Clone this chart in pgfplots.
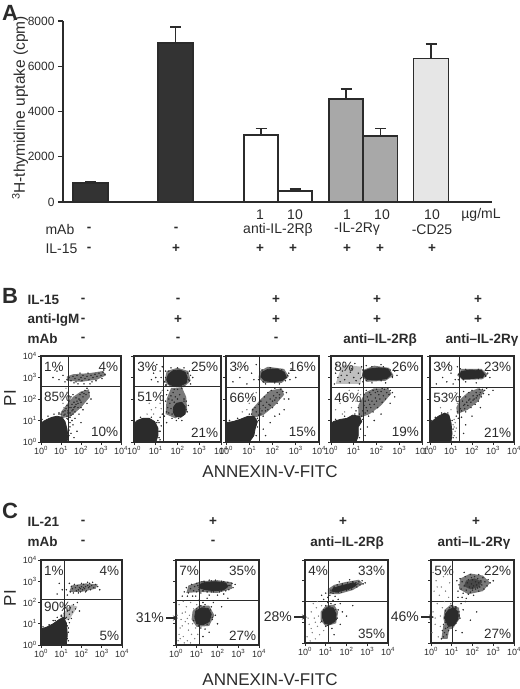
\documentclass[border=0pt]{standalone}
\usepackage{pgfplots}
\pgfplotsset{compat=1.18}
\usepackage{fontspec}
\setmainfont{Liberation Sans}
\definecolor{ink}{HTML}{2B2B2B}
\definecolor{darkbar}{HTML}{333333}
\definecolor{midbar}{HTML}{A8A8A8}
\definecolor{lightbar}{HTML}{E6E6E6}
\pgfplotsset{
  flow/.style={scale only axis, anchor=north west, xmin=0, xmax=4, ymin=0, ymax=4,
    xtick={0,1,2,3,4}, ytick={0,1,2,3,4},
    xticklabels={10\textsuperscript{0},10\textsuperscript{1},10\textsuperscript{2},10\textsuperscript{3},10\textsuperscript{4}},
    yticklabels={},
    tick align=outside, xtick pos=left, ytick pos=left, major tick length=3pt,
    axis line style={line width=1.1pt, ink},
    every tick/.style={line width=0.9pt, ink},
    tick label style={font=\fontsize{9}{10}\selectfont, text=ink, inner sep=1pt},
    axis on top},
  flowy/.style={yticklabels={10\textsuperscript{0},10\textsuperscript{1},10\textsuperscript{2},10\textsuperscript{3},10\textsuperscript{4}}},
  blob/.style={fill=ink, draw=ink, line width=0.8pt, line join=round},
  halo/.style={fill=black!52, draw=none},
  dots/.style={only marks, mark=*, mark size=0.5pt, ink},
  gdots/.style={only marks, mark=*, mark size=0.45pt, black!50},
  quad/.style={line width=1pt, ink},
  ebar/.style={error bars/.cd, y dir=plus, y explicit, error bar style={line width=1.8pt, ink},
    error mark options={rotate=90, line width=1.8pt, mark size=5.5pt, ink}},
}
\tikzset{pct/.style={font=\fontsize{13.5}{14}\selectfont, text=ink, inner sep=1pt},
  hdr/.style={font=\bfseries\fontsize{13.5}{15}\selectfont, text=ink},
  txt/.style={font=\fontsize{14}{16}\selectfont, text=ink},
  big/.style={font=\bfseries\fontsize{22}{24}\selectfont, text=ink}}
\begin{document}
\begin{tikzpicture}
\useasboundingbox (0pt,0pt) rectangle (520pt,-689pt);
% ================= Panel A =================
\node[big] at (10pt,-13pt) {A};
\begin{axis}[at={(63pt,-202pt)}, anchor=south west, scale only axis, width=429pt, height=181pt,
  xmin=63, xmax=492, ymin=0, ymax=8000,
  axis x line=bottom, axis y line=left, axis line style={-, line width=1.5pt, ink},
  xtick=\empty, ytick={0,2000,4000,6000,8000},
  tick align=outside, major tick length=5pt, every tick/.style={line width=1.2pt, ink},
  yticklabel style={font=\fontsize{12}{14}\selectfont, text=ink},
  /pgf/number format/1000 sep={}, /pgf/number format/assume math mode=true,
  clip=false]
\addplot[ybar, bar shift=0pt, bar width=34.5, fill=darkbar, draw=ink, line width=1.6pt, ebar]
  coordinates {(90.5,830) +- (0,70) (175.5,7030) +- (0,700)};
\addplot[ybar, bar shift=0pt, bar width=34, fill=white, draw=ink, line width=1.6pt, ebar]
  coordinates {(261,2960) +- (0,290) (295,485) +- (0,75)};
\addplot[ybar, bar shift=0pt, bar width=34, fill=midbar, draw=ink, line width=1.6pt, ebar]
  coordinates {(346,4540) +- (0,440) (380.5,2910) +- (0,340)};
\addplot[ybar, bar shift=0pt, bar width=35, fill=lightbar, draw=ink, line width=1.6pt, ebar]
  coordinates {(431,6340) +- (0,630)};
\end{axis}
\node[rotate=90, font=\fontsize{15.5}{17}\selectfont, text=ink] at (20pt,-108pt) {\textsuperscript{3}H-thymidine uptake (cpm)};
\node[txt] at (260pt,-215pt) {1};
\node[txt] at (295pt,-215pt) {10};
\node[txt] at (347pt,-215pt) {1};
\node[txt] at (382pt,-215pt) {10};
\node[txt] at (432pt,-215pt) {10};
\node[txt] at (481pt,-215pt) {µg/mL};
\node[txt,anchor=west] at (42pt,-229.5pt) {mAb};
\node[hdr] at (89pt,-229.5pt) {-};
\node[hdr] at (176pt,-229.5pt) {-};
\node[txt] at (278pt,-229.5pt) {anti-IL-2Rβ};
\node[txt] at (357pt,-229.5pt) {-IL-2Rγ};
\node[txt] at (432pt,-229.5pt) {-CD25};
\node[txt,anchor=west] at (42pt,-249pt) {IL-15};
\node[hdr] at (89pt,-249pt) {-};
\foreach \xx in {176,260,293,347,380,432} {\node[hdr] at (\xx pt,-249pt) {+};}
% ================= Panel B headers =================
\node[big] at (10pt,-296pt) {B};
\node[hdr,anchor=west] at (24pt,-300pt) {IL-15};
\node[hdr,anchor=west] at (24pt,-320pt) {anti-IgM};
\node[hdr,anchor=west] at (24pt,-339pt) {mAb};
\node[hdr] at (83pt,-300pt) {-};\node[hdr] at (83pt,-320pt) {-};\node[hdr] at (83pt,-339pt) {-};
\node[hdr] at (178pt,-300pt) {-};\node[hdr] at (178pt,-320pt) {+};\node[hdr] at (178pt,-339pt) {-};
\node[hdr] at (276pt,-300pt) {+};\node[hdr] at (276pt,-320pt) {+};\node[hdr] at (276pt,-339pt) {-};
\node[hdr] at (377pt,-300pt) {+};\node[hdr] at (377pt,-320pt) {+};\node[hdr] at (380pt,-340pt) {anti–IL-2Rβ};
\node[hdr] at (478pt,-300pt) {+};\node[hdr] at (478pt,-320pt) {+};\node[hdr] at (482pt,-340pt) {anti–IL-2Rγ};
\node[rotate=90, font=\fontsize{17}{18}\selectfont, text=ink] at (10pt,-398pt) {PI};
\node[font=\fontsize{17}{18}\selectfont, text=ink] at (270pt,-472pt) {ANNEXIN-V-FITC};
% ---- B1 ----
\begin{axis}[flow, flowy, at={(41pt,-356pt)}, width=80pt, height=86pt]
\addplot[halo] coordinates {(1.0,1.1)(1.5,1.2)(2.0,1.6)(2.45,2.1)(2.4,2.45)(2.0,2.35)(1.6,2.1)(1.25,1.7)(1.0,1.4)} --cycle;
\addplot[halo] coordinates {(1.3,2.85)(2.0,2.8)(2.8,2.9)(3.25,3.1)(3.1,3.3)(2.4,3.2)(1.6,3.15)(1.3,3.05)} --cycle;
\addplot[blob] coordinates {(0,0)(1.3,0)(1.35,0.25)(1.3,0.6)(1.2,0.95)(1.05,1.15)(0.8,1.2)(0.55,1.15)(0.3,1.05)(0.1,0.95)(0,0.85)} --cycle;
\addplot[dots] coordinates {(1.2,1.3)(1.3,1.2)(1.35,1.45)(1.45,1.35)(1.5,1.6)(1.6,1.5)(1.55,1.75)(1.65,1.85)(1.7,1.65)(1.8,1.9)(1.75,2.05)(1.9,2.0)(1.95,2.2)(2.0,1.85)(2.05,2.3)(2.1,2.1)(2.2,2.4)(2.25,2.2)(2.3,2.5)(1.4,1.9)(1.5,2.1)(1.6,2.2)(1.3,1.7)(1.25,1.55)(1.45,1.15)(1.6,1.3)(1.7,1.4)(1.85,1.6)(2.0,1.6)(2.4,2.3)(1.1,1.4)(1.0,1.3)(0.9,1.35)
(1.4,1.6)(1.55,1.45)(1.65,1.6)(1.75,1.75)(1.85,1.8)(1.95,1.95)(2.15,2.25)(1.35,1.35)(1.5,1.25)(1.2,1.45)
(1.5,0.4)(1.6,0.8)(1.7,1.1)(1.45,0.7)(1.8,0.5)(1.55,1.0)(1.9,1.3)(2.1,1.5)(2.3,1.8)(1.65,0.2)(2.0,0.9)(2.5,2.0)
(1.4,0.3)(1.45,0.9)(1.35,1.05)(1.15,1.25)(0.65,1.3)(0.35,1.2)(0.05,1.05)(1.4,0.55)(1.3,1.1)(0.9,1.3)
(1.3,2.9)(1.4,3.0)(1.5,2.85)(1.6,3.05)(1.7,2.95)(1.75,2.8)(1.8,3.1)(1.9,2.9)(2.0,3.0)(2.05,2.85)(2.1,3.1)(2.2,2.95)(2.3,3.05)(2.4,2.9)(2.5,3.1)(2.6,3.0)(2.7,3.15)(2.8,3.05)(2.9,3.2)(3.0,3.1)(3.1,3.25)(3.2,3.15)(2.55,2.8)(2.35,3.2)(1.95,3.2)(1.65,2.75)(2.75,2.85)(3.05,2.95)(2.45,2.7)(2.15,2.7)(1.85,2.7)
(0.6,3.0)(0.9,2.9)(1.1,3.1)(1.2,2.8)(0.8,3.3)};
\addplot[gdots] coordinates {(1.1,1.8)(1.2,2.1)(1.3,2.3)(1.0,2.0)(1.25,2.5)(1.15,1.6)(1.35,2.0)};
\addplot[quad] coordinates {(1.4,0)(1.4,4)};
\addplot[quad] coordinates {(0,2.6)(4,2.6)};
\node[pct,anchor=west] at (axis cs:0.1,3.5) {1\%};
\node[pct,anchor=east] at (axis cs:3.92,3.5) {4\%};
\node[pct,anchor=west] at (axis cs:0.1,2.1) {85\%};
\node[pct,anchor=east] at (axis cs:3.92,0.45) {10\%};
\end{axis}
% ---- B2 ----
\begin{axis}[flow, at={(134pt,-356pt)}, width=87pt, height=86pt]
\addplot[halo] coordinates {(1.45,1.3)(1.9,1.1)(2.45,1.4)(2.4,2.1)(2.2,2.55)(1.7,2.5)(1.5,2.0)} --cycle;
\addplot[halo] coordinates {(1.4,2.8)(1.7,2.55)(2.3,2.55)(2.6,2.85)(2.5,3.3)(2.0,3.45)(1.5,3.3)} --cycle;
\addplot[blob] coordinates {(0,0)(1.0,0)(1.1,0.3)(1.1,0.65)(0.95,0.95)(0.7,1.1)(0.4,1.1)(0.15,1.0)(0,0.85)} --cycle;
\addplot[blob] coordinates {(1.5,2.9)(1.6,2.7)(1.85,2.6)(2.15,2.62)(2.4,2.75)(2.45,3.0)(2.35,3.25)(2.1,3.35)(1.8,3.32)(1.58,3.15)} --cycle;
\addplot[blob] coordinates {(1.8,1.4)(1.9,1.2)(2.15,1.15)(2.35,1.3)(2.35,1.65)(2.2,1.85)(1.95,1.8)(1.82,1.62)} --cycle;
\addplot[dots] coordinates {(1.1,1.0)(1.2,1.15)(1.3,1.3)(1.4,1.2)(1.5,1.4)(1.6,1.35)(1.7,1.55)(1.55,1.6)(1.65,1.8)(1.75,1.95)(1.6,2.0)(1.7,2.15)(1.8,2.3)(1.9,2.1)(2.0,2.0)(2.1,2.2)(1.85,2.45)(2.0,2.45)(2.2,2.5)(1.5,2.2)(1.45,1.9)(1.55,2.4)(2.3,2.0)(2.4,1.9)(2.5,1.7)(2.45,1.4)(1.95,1.0)(1.75,1.1)(2.2,1.0)(1.5,0.9)
(0.8,2.9)(0.9,3.2)(1.0,3.0)(1.1,2.8)(1.2,3.3)(1.25,3.0)(1.3,3.5)(0.7,3.4)(1.05,3.6)
(1.4,2.8)(1.45,3.3)(2.5,2.9)(2.6,3.1)(2.55,3.3)(2.3,3.45)(1.7,3.45)(1.45,2.65)(2.6,2.7)(2.7,3.0)
(1.5,2.65)(1.45,3.0)(1.6,3.3)(2.0,3.45)(2.45,3.2)(2.55,2.85)(2.3,2.6)(1.7,2.6)
(1.75,1.3)(2.05,1.1)(2.4,1.5)(2.3,1.9)(1.85,1.85)(1.15,0.5)(1.05,0.9)(0.8,1.15)(0.3,1.15)(1.2,0.1)
(1.15,0.9)(1.2,0.5)(1.25,0.75)(1.15,0.2)};
\addplot[gdots] coordinates {(0.9,1.3)(1.0,1.6)(1.2,1.8)(0.8,1.5)(1.1,2.1)(1.25,1.55)(0.6,1.3)(1.3,2.4)(0.7,1.8)(1.0,2.3)};
\addplot[quad] coordinates {(1.35,0)(1.35,4)};
\addplot[quad] coordinates {(0,2.6)(4,2.6)};
\node[pct,anchor=west] at (axis cs:0.1,3.5) {3\%};
\node[pct,anchor=east] at (axis cs:3.92,3.5) {25\%};
\node[pct,anchor=west] at (axis cs:0.1,2.1) {51\%};
\node[pct,anchor=east] at (axis cs:3.92,0.45) {21\%};
\end{axis}
% ---- B3 ----
\begin{axis}[flow, at={(226pt,-356pt)}, width=93pt, height=86pt]
\addplot[halo] coordinates {(1.1,1.1)(1.6,1.25)(2.1,1.7)(2.5,2.2)(2.4,2.5)(1.9,2.4)(1.5,2.0)(1.1,1.5)} --cycle;
\addplot[halo] coordinates {(1.4,3.0)(1.6,2.75)(2.4,2.75)(2.7,3.05)(2.5,3.4)(1.8,3.5)(1.45,3.3)} --cycle;
\addplot[blob] coordinates {(0,0)(1.0,0)(1.2,0.3)(1.25,0.6)(1.35,0.95)(1.2,1.2)(0.95,1.2)(0.6,1.05)(0.3,0.95)(0,0.9)} --cycle;
\addplot[blob] coordinates {(1.5,3.05)(1.65,2.85)(2.0,2.8)(2.4,2.85)(2.6,3.0)(2.5,3.25)(2.2,3.4)(1.8,3.38)(1.55,3.25)} --cycle;
\addplot[dots] coordinates {(1.1,1.3)(1.2,1.1)(1.3,1.4)(1.4,1.25)(1.45,1.55)(1.55,1.45)(1.6,1.7)(1.7,1.6)(1.75,1.85)(1.85,1.75)(1.9,2.0)(2.0,1.9)(2.05,2.15)(2.15,2.05)(2.2,2.3)(2.3,2.2)(2.35,2.45)(2.45,2.35)(1.5,1.9)(1.65,2.1)(1.8,2.3)(1.95,2.4)(2.1,2.5)(1.4,1.75)(2.5,2.0)(2.6,2.3)(1.35,1.1)(1.6,1.2)(1.8,1.5)(2.0,1.6)(2.2,1.8)(1.25,1.6)(1.15,1.5)(1.5,1.3)(1.7,1.45)(1.9,1.7)(2.1,1.95)(2.3,2.05)
(1.6,0.6)(1.9,0.9)(2.3,1.3)(2.1,1.2)(1.7,0.3)(2.7,2.0)(2.5,1.5)
(0.3,2.8)(0.6,3.0)(0.9,2.7)(1.1,3.2)(1.2,2.9)(0.5,3.4)(1.3,3.6)(0.8,3.5)
(1.4,2.9)(1.45,3.4)(2.7,3.2)(2.75,2.9)(2.3,2.7)(1.7,2.7)(2.8,3.4)(3.0,3.0)
(1.45,3.0)(1.6,2.8)(2.1,2.75)(2.55,2.85)(2.65,3.1)(2.4,3.35)(1.9,3.45)(1.55,3.35)
(1.3,0.3)(1.35,0.7)(1.4,1.0)(1.0,1.3)(0.5,1.1)(0.15,1.0)};
\addplot[gdots] coordinates {(0.9,1.5)(1.0,1.8)(1.2,2.0)(0.7,1.4)(1.3,2.3)(1.1,2.2)};
\addplot[quad] coordinates {(1.43,0)(1.43,4)};
\addplot[quad] coordinates {(0,2.55)(4,2.55)};
\node[pct,anchor=west] at (axis cs:0.1,3.5) {3\%};
\node[pct,anchor=east] at (axis cs:3.92,3.5) {16\%};
\node[pct,anchor=west] at (axis cs:0.1,2.05) {66\%};
\node[pct,anchor=east] at (axis cs:3.92,0.45) {15\%};
\end{axis}
% ---- B4 ----
\begin{axis}[flow, at={(331pt,-356pt)}, width=91pt, height=86pt]
\addplot[halo] coordinates {(1.2,1.1)(1.7,1.3)(2.2,1.7)(2.65,2.25)(2.5,2.5)(1.9,2.5)(1.5,2.3)(1.2,1.7)} --cycle;
\addplot[fill=black!25, draw=none] coordinates {(0.2,2.7)(1.3,2.7)(1.35,3.5)(0.5,3.6)} --cycle;
\addplot[halo] coordinates {(1.35,3.05)(1.6,2.8)(2.4,2.85)(2.75,3.1)(2.55,3.45)(1.9,3.55)(1.4,3.35)} --cycle;
\addplot[blob] coordinates {(0,0)(1.1,0)(1.2,0.3)(1.2,0.7)(1.35,0.95)(1.25,1.2)(0.95,1.25)(0.7,1.1)(0.4,1.05)(0.1,0.95)(0,0.8)} --cycle;
\addplot[blob] coordinates {(1.4,3.1)(1.6,2.9)(2.0,2.88)(2.45,2.95)(2.65,3.15)(2.5,3.4)(2.1,3.45)(1.7,3.4)(1.45,3.3)} --cycle;
\addplot[dots] coordinates {(1.25,1.3)(1.35,1.2)(1.4,1.45)(1.5,1.35)(1.55,1.6)(1.6,1.45)(1.7,1.75)(1.75,1.6)(1.8,1.9)(1.9,1.75)(1.95,2.05)(2.0,1.9)(2.1,2.2)(2.15,2.0)(2.2,2.35)(2.3,2.15)(2.35,2.45)(2.45,2.3)(2.5,2.5)(2.6,2.4)(1.5,1.9)(1.6,2.1)(1.7,2.3)(1.85,2.4)(2.0,2.45)(1.45,2.2)(1.55,2.4)(1.3,1.9)(1.2,1.6)(1.1,1.45)(1.65,1.2)(1.85,1.4)(2.05,1.6)(2.25,1.85)(2.4,2.0)(2.55,2.2)(2.7,2.3)(1.75,2.2)(1.95,2.3)(2.25,2.5)(1.45,1.7)(1.65,1.95)(2.05,2.35)
(0.15,2.7)(0.3,3.0)(0.4,2.8)(0.5,3.3)(0.6,2.9)(0.7,3.1)(0.8,2.75)(0.9,3.4)(1.0,3.0)(1.1,2.85)(1.2,3.2)(1.3,2.95)(1.35,3.5)(0.25,3.6)(0.55,3.7)(1.05,3.65)(0.85,3.25)(1.25,2.7)(0.45,3.1)(0.2,3.2)
(1.4,2.8)(2.7,3.0)(2.8,3.3)(2.9,3.1)(2.4,2.75)(1.8,2.75)(2.2,3.6)(1.55,3.55)
(1.35,3.0)(1.55,2.85)(2.2,2.85)(2.7,3.05)(2.6,3.35)(2.3,3.5)(1.8,3.5)(1.4,3.35)
(1.25,0.2)(1.3,0.6)(1.4,1.05)(1.05,1.3)(0.6,1.2)(0.2,1.05)
(1.6,0.7)(1.9,1.0)(2.2,1.3)(2.6,1.8)(1.5,0.3)(2.8,2.1)};
\addplot[gdots] coordinates {(0.2,1.5)(0.4,1.8)(0.6,1.4)(0.7,2.0)(0.9,1.6)(1.0,2.2)(1.1,1.9)(1.2,2.4)(0.3,2.2)(0.8,2.4)(1.3,2.2)(0.5,1.3)};
\addplot[quad] coordinates {(1.41,0)(1.41,4)};
\addplot[quad] coordinates {(0,2.55)(4,2.55)};
\node[pct,anchor=west] at (axis cs:0.1,3.5) {8\%};
\node[pct,anchor=east] at (axis cs:3.92,3.5) {26\%};
\node[pct,anchor=west] at (axis cs:0.1,2.05) {46\%};
\node[pct,anchor=east] at (axis cs:3.92,0.45) {19\%};
\end{axis}
% ---- B5 ----
\begin{axis}[flow, at={(430pt,-356pt)}, width=84pt, height=86pt]
\addplot[halo] coordinates {(1.3,1.3)(1.8,1.5)(2.3,1.9)(2.6,2.4)(2.3,2.5)(1.8,2.3)(1.45,2.0)(1.25,1.6)} --cycle;
\addplot[halo] coordinates {(1.3,3.1)(1.55,2.88)(2.5,2.92)(2.75,3.15)(2.45,3.4)(1.5,3.4)} --cycle;
\addplot[blob] coordinates {(0,0)(1.0,0)(1.05,0.4)(1.0,0.9)(0.9,1.25)(0.7,1.35)(0.4,1.2)(0.15,1.0)(0,0.9)} --cycle;
\addplot[blob] coordinates {(1.4,3.1)(1.55,2.95)(2.0,2.95)(2.5,3.0)(2.6,3.15)(2.45,3.32)(1.9,3.35)(1.5,3.28)} --cycle;
\addplot[dots] coordinates {(1.3,1.4)(1.4,1.3)(1.45,1.55)(1.5,1.45)(1.6,1.7)(1.65,1.55)(1.75,1.85)(1.8,1.7)(1.9,2.0)(1.95,1.85)(2.05,2.15)(2.1,2.0)(2.2,2.3)(2.25,2.15)(2.35,2.45)(2.4,2.3)(2.5,2.45)(1.55,1.9)(1.7,2.1)(1.85,2.3)(2.0,2.4)(1.45,2.1)(1.6,2.35)(2.3,1.9)(2.45,2.1)(2.55,2.25)(1.95,1.6)(2.15,1.75)(1.7,1.4)(2.6,2.4)(1.5,1.15)(1.35,1.1)(1.25,1.2)(2.7,2.5)(1.85,1.95)(2.05,1.95)(2.2,2.05)(1.65,1.75)(2.35,2.2)
(0.3,2.7)(0.6,3.0)(0.8,2.8)(1.0,3.2)(1.2,2.9)(0.5,3.4)(1.3,3.5)(0.9,3.6)(1.1,2.7)
(1.35,2.9)(2.65,3.05)(2.75,3.2)(2.2,2.75)(1.7,2.8)(2.85,3.0)(1.45,3.4)
(1.35,3.15)(1.6,2.9)(2.3,2.95)(2.65,3.1)(2.3,3.38)(1.7,3.38)
(1.1,0.2)(1.1,0.6)(1.05,1.0)(0.85,1.35)(0.55,1.35)(0.25,1.15)(0.05,1.0)
(1.7,0.8)(2.0,1.2)(2.4,1.6)(1.6,0.4)(2.8,2.2)(3.0,2.4)};
\addplot[gdots] coordinates {(1.15,0.3)(1.2,0.5)(1.15,0.7)(1.2,0.9)(1.15,1.05)(1.25,0.2)(1.1,0.8)(1.25,0.65)(0.5,1.6)(0.7,1.9)(1.0,1.5)(1.1,2.0)(1.2,2.3)(0.9,2.2)(1.3,1.8)(0.4,2.0)};
\addplot[quad] coordinates {(1.4,0)(1.4,4)};
\addplot[quad] coordinates {(0,2.55)(4,2.55)};
\node[pct,anchor=west] at (axis cs:0.1,3.5) {3\%};
\node[pct,anchor=east] at (axis cs:3.92,3.5) {23\%};
\node[pct,anchor=west] at (axis cs:0.1,2.05) {53\%};
\node[pct,anchor=east] at (axis cs:3.92,0.45) {21\%};
\end{axis}
% ================= Panel C headers =================
\node[big] at (10pt,-511pt) {C};
\node[hdr,anchor=west] at (24pt,-522pt) {IL-21};
\node[hdr,anchor=west] at (24pt,-542pt) {mAb};
\node[hdr] at (83pt,-522pt) {-};\node[hdr] at (83pt,-542pt) {-};
\node[hdr] at (213pt,-522pt) {+};\node[hdr] at (213pt,-542pt) {-};
\node[hdr] at (343pt,-522pt) {+};\node[hdr] at (347pt,-543pt) {anti–IL-2Rβ};
\node[hdr] at (476pt,-522pt) {+};\node[hdr] at (474pt,-543pt) {anti–IL-2Rγ};
\node[rotate=90, font=\fontsize{17}{18}\selectfont, text=ink] at (10pt,-598pt) {PI};
\node[font=\fontsize{17}{18}\selectfont, text=ink] at (270pt,-680pt) {ANNEXIN-V-FITC};
\node[pct,anchor=east,font=\fontsize{14}{15}\selectfont] at (165pt,-618pt) {31\%};
\draw[-stealth, line width=1.2pt, ink] (166pt,-618pt) -- (178pt,-618pt);
\node[pct,anchor=east,font=\fontsize{14}{15}\selectfont] at (293pt,-617pt) {28\%};
\draw[-stealth, line width=1.2pt, ink] (294pt,-617pt) -- (307pt,-617pt);
\node[pct,anchor=east,font=\fontsize{14}{15}\selectfont] at (420pt,-617pt) {46\%};
\draw[-stealth, line width=1.2pt, ink] (421pt,-617pt) -- (434pt,-617pt);
% ---- C1 ----
\begin{axis}[flow, flowy, at={(41pt,-560pt)}, width=81pt, height=85pt]
\addplot[halo] coordinates {(1.4,2.5)(2.0,2.5)(2.7,2.65)(2.8,2.85)(2.2,2.9)(1.5,2.8)} --cycle;
\addplot[fill=black!28, draw=none] coordinates {(1.0,1.2)(1.4,1.2)(1.8,1.8)(1.5,1.9)(1.1,1.5)} --cycle;
\addplot[blob] coordinates {(0,0)(1.25,0)(1.3,0.5)(1.25,1.05)(1.1,1.3)(0.9,1.2)(0.6,1.0)(0.3,0.85)(0,0.75)} --cycle;
\addplot[dots] coordinates {(1.45,2.5)(1.55,2.65)(1.6,2.45)(1.7,2.7)(1.75,2.55)(1.8,2.8)(1.85,2.6)(1.9,2.7)(1.95,2.5)(2.0,2.75)(2.05,2.6)(2.1,2.85)(2.15,2.65)(2.2,2.75)(2.25,2.55)(2.3,2.8)(2.35,2.7)(2.4,2.9)(2.45,2.6)(2.5,2.8)(2.55,2.95)(2.6,2.7)(2.7,2.85)(2.8,2.75)(1.65,2.85)(1.5,2.75)(2.0,2.9)(2.3,2.95)(1.85,2.45)(2.2,2.5)(1.3,2.35)(1.25,2.6)(2.9,2.6)(1.4,2.9)(1.95,2.65)(2.1,2.7)(2.4,2.75)
(1.0,1.4)(1.15,1.5)(1.25,1.3)(1.3,1.6)(1.4,1.45)(1.45,1.75)(1.55,1.55)(1.6,1.9)(1.7,1.7)(1.8,2.0)(1.35,1.2)(1.3,0.9)(1.4,1.05)(1.2,1.75)(1.5,1.25)(1.9,1.6)
(1.35,0.2)(1.35,0.8)(1.2,1.25)(1.0,1.35)(0.7,1.15)(0.4,0.95)(0.1,0.85)
(0.8,2.4)(0.9,2.9)(1.05,2.6)(0.8,1.3)(0.6,1.15)(1.3,0.3)(1.35,0.6)};
\addplot[quad] coordinates {(1.15,0)(1.15,4)};
\addplot[quad] coordinates {(0,2.13)(4,2.13)};
\node[pct,anchor=west] at (axis cs:0.1,3.5) {1\%};
\node[pct,anchor=east] at (axis cs:3.92,3.5) {4\%};
\node[pct,anchor=west] at (axis cs:0.1,1.8) {90\%};
\node[pct,anchor=east] at (axis cs:3.92,0.45) {5\%};
\end{axis}
% ---- C2 ----
\begin{axis}[flow, at={(176pt,-560pt)}, width=83pt, height=85pt]
\addplot[halo] coordinates {(0.5,2.45)(1.2,2.5)(2.0,2.45)(2.7,2.65)(2.7,2.95)(2.0,3.05)(1.2,3.0)(0.6,2.8)} --cycle;
\addplot[halo] coordinates {(0.75,1.2)(1.0,0.85)(1.6,0.9)(1.85,1.4)(1.6,1.85)(1.1,1.85)(0.8,1.6)} --cycle;
\addplot[blob] coordinates {(1.1,2.7)(1.4,2.6)(1.9,2.55)(2.3,2.6)(2.5,2.75)(2.4,2.92)(1.9,2.98)(1.4,2.95)(1.15,2.85)} --cycle;
\addplot[blob] coordinates {(0.9,1.3)(1.0,1.0)(1.3,0.95)(1.6,1.1)(1.7,1.45)(1.55,1.72)(1.25,1.75)(0.95,1.6)} --cycle;
\addplot[dots] coordinates {(0.4,2.5)(0.5,2.7)(0.6,2.45)(0.7,2.65)(0.75,2.85)(0.85,2.55)(0.9,2.75)(1.0,2.5)(1.0,2.9)(1.1,2.6)(1.2,2.45)(1.3,2.55)(1.35,3.0)(1.5,2.5)(1.6,3.05)(1.8,2.5)(1.9,3.05)(2.1,2.5)(2.2,3.0)(2.4,2.55)(2.5,2.95)(2.6,2.8)(2.7,2.9)(2.75,2.7)(2.85,2.85)(0.3,2.3)(0.55,2.3)(0.8,2.3)(2.0,2.35)(2.3,2.4)(1.6,2.35)(0.95,2.3)(2.55,2.6)
(1.05,2.8)(1.3,2.55)(1.7,2.5)(2.2,2.55)(2.55,2.8)(2.3,2.98)(1.7,3.02)(1.25,2.97)
(0.85,1.15)(1.1,0.9)(1.5,0.98)(1.75,1.3)(1.65,1.65)(1.35,1.8)(1.0,1.7)
(1.2,1.85)(1.3,2.0)(1.4,1.9)(1.1,2.1)(1.5,2.2)(1.7,1.8)(1.8,2.0)(1.6,1.5)(1.75,1.2)(1.2,0.8)(1.4,0.75)(1.9,1.4)(2.2,1.8)(2.5,2.2)
(1.3,0.4)(1.6,0.6)(2.0,1.0)};
\addplot[gdots] coordinates {(0.1,0.2)(0.2,0.8)(0.3,1.5)(0.15,1.9)(0.35,0.4)(0.45,1.1)(0.5,1.8)(0.55,0.2)(0.6,0.7)(0.65,1.4)(0.7,2.0)(0.75,0.5)(0.8,1.0)(0.85,1.7)(0.9,0.3)(0.95,0.8)(1.0,1.9)(0.25,1.2)(0.4,0.1)(0.05,1.4)(0.15,0.5)(0.7,0.1)(0.35,2.05)(0.6,1.0)(1.05,0.5)(0.45,1.55)(0.2,0.3)(0.3,0.9)(0.55,1.25)(0.85,1.3)};
\addplot[quad] coordinates {(1.15,0)(1.15,4)};
\addplot[quad] coordinates {(0,2.1)(4,2.1)};
\node[pct,anchor=west] at (axis cs:0.1,3.5) {7\%};
\node[pct,anchor=east] at (axis cs:3.92,3.5) {35\%};
\node[pct,anchor=east] at (axis cs:3.92,0.45) {27\%};
\end{axis}
% ---- C3 ----
\begin{axis}[flow, at={(305pt,-560pt)}, width=83pt, height=83pt]
\addplot[halo] coordinates {(1.1,2.35)(1.6,2.35)(2.3,2.55)(2.8,2.85)(2.6,3.05)(2.0,2.95)(1.4,2.8)(1.1,2.6)} --cycle;
\addplot[halo] coordinates {(0.75,1.1)(1.0,0.8)(1.5,0.95)(1.6,1.5)(1.4,1.85)(1.0,1.8)(0.75,1.5)} --cycle;
\addplot[blob] coordinates {(1.3,2.5)(1.5,2.45)(1.9,2.55)(2.3,2.68)(2.5,2.82)(2.35,2.9)(2.0,2.82)(1.6,2.72)(1.35,2.62)} --cycle;
\addplot[blob] coordinates {(0.85,1.2)(0.95,0.95)(1.2,0.9)(1.45,1.05)(1.5,1.4)(1.35,1.7)(1.05,1.7)(0.85,1.5)} --cycle;
\addplot[dots] coordinates {(1.2,2.3)(1.25,2.55)(1.35,2.4)(1.4,2.7)(1.5,2.5)(1.55,2.8)(1.6,2.55)(1.7,2.7)(1.75,2.45)(1.8,2.85)(1.85,2.6)(1.95,2.75)(2.0,2.55)(2.05,2.9)(2.1,2.7)(2.2,2.8)(2.25,2.6)(2.3,2.95)(2.4,2.75)(2.45,2.9)(2.5,2.7)(2.6,2.95)(2.65,2.8)(2.75,3.0)(2.8,2.85)(1.1,2.2)(1.0,2.4)(0.9,2.1)(0.8,2.3)(1.45,2.25)(1.65,2.95)(2.15,3.05)(2.9,2.9)
(1.25,2.45)(1.6,2.45)(2.1,2.6)(2.55,2.85)(2.3,2.95)(1.8,2.8)(1.4,2.68)
(0.8,1.05)(1.1,0.85)(1.5,1.15)(1.45,1.6)(1.2,1.75)(0.9,1.6)
(1.0,1.8)(1.1,1.95)(1.25,1.9)(1.35,2.05)(1.45,1.85)(1.6,1.6)(1.6,2.1)(1.7,1.9)(1.0,0.8)(1.3,0.7)(1.55,1.2)(1.8,1.5)
(1.4,0.4)(1.7,0.9)(2.0,1.3)(2.3,1.8)};
\addplot[gdots] coordinates {(0.1,0.3)(0.2,0.9)(0.3,1.5)(0.35,0.5)(0.45,1.2)(0.5,0.2)(0.55,1.7)(0.6,0.8)(0.65,1.3)(0.7,0.4)(0.75,1.0)(0.8,1.8)(0.15,1.2)(0.4,1.9)(0.25,0.1)(0.9,0.6)(0.6,2.0)(0.3,0.7)(0.5,1.0)};
\addplot[quad] coordinates {(1.15,0)(1.15,4)};
\addplot[quad] coordinates {(0,2.0)(4,2.0)};
\node[pct,anchor=west] at (axis cs:0.1,3.5) {4\%};
\node[pct,anchor=east] at (axis cs:3.92,3.5) {33\%};
\node[pct,anchor=east] at (axis cs:3.92,0.45) {35\%};
\end{axis}
% ---- C4 ----
\begin{axis}[flow, at={(431pt,-560pt)}, width=83pt, height=83pt]
\addplot[halo] coordinates {(1.35,2.6)(1.8,2.35)(2.5,2.5)(2.85,2.9)(2.5,3.25)(1.9,3.35)(1.4,3.1)} --cycle;
\addplot[halo] coordinates {(0.6,1.2)(0.7,0.6)(1.05,0.7)(1.4,1.2)(1.35,1.7)(0.95,1.85)(0.65,1.6)} --cycle;
\addplot[halo] coordinates {(0.5,0.2)(0.8,0.2)(0.9,0.8)(0.6,0.9)} --cycle;
\addplot[fill=black!72, draw=black!72] coordinates {(1.6,2.75)(1.9,2.6)(2.3,2.7)(2.45,2.95)(2.1,3.1)(1.7,3.0)} --cycle;
\addplot[blob] coordinates {(0.7,1.1)(0.85,0.8)(1.1,0.85)(1.3,1.15)(1.3,1.5)(1.1,1.7)(0.85,1.6)(0.7,1.4)} --cycle;
\addplot[dots] coordinates {(1.3,2.5)(1.35,2.8)(1.4,3.1)(1.45,2.6)(1.5,2.95)(1.55,2.4)(1.6,2.75)(1.65,3.2)(1.7,2.55)(1.75,2.9)(1.8,3.05)(1.8,2.35)(1.85,2.7)(1.9,3.3)(1.95,2.85)(2.0,2.55)(2.0,3.05)(2.05,2.75)(2.1,3.2)(2.15,2.6)(2.15,2.95)(2.2,2.8)(2.25,3.1)(2.3,2.5)(2.3,2.9)(2.35,2.7)(2.4,3.0)(2.45,2.8)(2.5,3.15)(2.55,2.6)(2.6,2.95)(2.7,2.75)(2.75,3.05)(2.85,2.9)(1.5,2.2)(1.7,2.15)(2.05,2.3)(1.25,3.0)(1.9,2.45)(2.0,2.65)(1.95,3.15)(2.25,2.65)(1.6,3.4)(2.3,3.3)(3.0,3.0)
(0.6,0.3)(0.65,0.5)(0.7,0.7)(0.75,0.4)(0.8,0.9)(0.55,0.6)(0.6,0.9)(0.7,1.0)(0.5,0.2)(0.85,0.6)(1.35,1.3)(1.2,1.75)(0.65,1.25)
(0.65,1.2)(0.8,0.75)(1.2,0.95)(1.35,1.35)(1.2,1.65)(0.9,1.7)(0.7,1.55)
(1.0,1.8)(1.1,2.0)(1.2,1.7)(1.3,2.2)(1.35,1.5)(1.45,1.9)(1.55,1.6)(1.65,2.0)(1.4,1.2)(1.2,0.6)
(1.5,0.5)(1.9,1.1)(2.2,1.5)};
\addplot[gdots] coordinates {(0.05,0.5)(0.1,1.5)(0.15,2.5)(0.2,0.9)(0.25,3.0)(0.3,1.9)(0.35,0.3)(0.4,2.3)(0.45,1.3)(0.5,2.7)(0.55,1.7)(0.6,3.2)(0.65,2.0)(0.7,2.5)(0.8,3.3)(0.85,2.2)(0.9,2.9)(0.95,1.9)(0.2,1.2)(0.3,2.7)(0.1,3.4)(0.45,0.8)};
\addplot[quad] coordinates {(1.05,0)(1.05,4)};
\addplot[quad] coordinates {(0,2.0)(4,2.0)};
\node[pct,anchor=west] at (axis cs:0.1,3.5) {5\%};
\node[pct,anchor=east] at (axis cs:3.92,3.5) {22\%};
\node[pct,anchor=east] at (axis cs:3.92,0.45) {27\%};
\end{axis}
\end{tikzpicture}
\end{document}
